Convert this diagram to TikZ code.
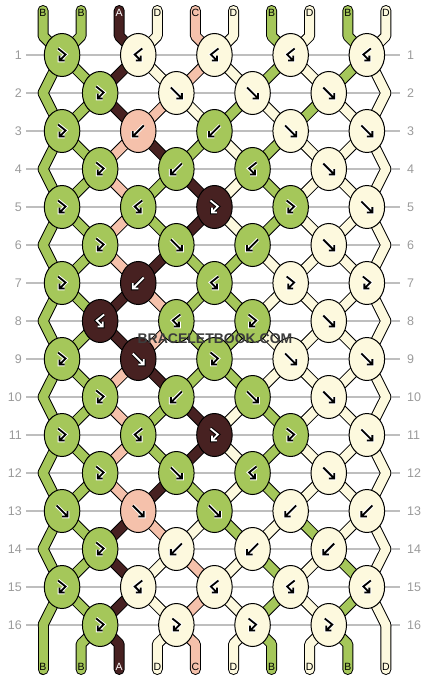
\documentclass[tikz,border=0pt]{standalone}
\usepackage{fontspec}
\newfontfamily\lsans{Liberation Sans}
\usetikzlibrary{shapes.geometric}
\definecolor{sB}{HTML}{A5C75A}
\definecolor{sA}{HTML}{472121}
\definecolor{sC}{HTML}{F5C1AB}
\definecolor{sD}{HTML}{FDF9DE}
\definecolor{gridc}{HTML}{BEBEBE}
\definecolor{numc}{HTML}{9A9A9A}
\definecolor{wmc}{HTML}{3C3C3C}
\pgfdeclarelayer{gridlayer}
\pgfdeclarelayer{strlayer}
\pgfsetlayers{gridlayer,strlayer,main}
\def\letterA{A}
\newcommand\kfF{%
  \draw[symhalo,line width=3.8,line join=miter] (-5.5,-5.5)--(5.5,5.5) (5.5,0)--(5.5,5.5)--(0,5.5);
  \draw[symfg,line width=1.8,line join=miter] (-5.5,-5.5)--(5.5,5.5) (5.5,0)--(5.5,5.5)--(0,5.5);}
\newcommand\kfB{%
  \draw[symhalo,line width=3.8,line join=miter] (5.5,-5.5)--(-5.5,5.5) (-5.5,0)--(-5.5,5.5)--(0,5.5);
  \draw[symfg,line width=1.8,line join=miter] (5.5,-5.5)--(-5.5,5.5) (-5.5,0)--(-5.5,5.5)--(0,5.5);}
\newcommand\kfFB{%
  \draw[symhalo,line width=3.8,line join=miter] (-4,-6.5)--(3.5,-0.5)--(-2.5,5.5) (-2.5,0.5)--(-2.5,5.5)--(2.5,5.5);
  \draw[symfg,line width=1.8,line join=miter] (-4,-6.5)--(3.5,-0.5)--(-2.5,5.5) (-2.5,0.5)--(-2.5,5.5)--(2.5,5.5);}
\newcommand\kfBF{%
  \draw[symhalo,line width=3.8,line join=miter] (4,-6.5)--(-3.5,-0.5)--(2.5,5.5) (2.5,0.5)--(2.5,5.5)--(-2.5,5.5);
  \draw[symfg,line width=1.8,line join=miter] (4,-6.5)--(-3.5,-0.5)--(2.5,5.5) (2.5,0.5)--(2.5,5.5)--(-2.5,5.5);}
\newcommand\stringpass[2]{%
  \foreach \kc [count=\ii from 0] in {B,B,A,D,C,D,B,D,B,D} {
    \pgfmathtruncatemacro\so{\ii/2}
    \ifnum\ii=0 \def\se{L}\else\ifnum\ii=9 \def\se{R}\else\pgfmathtruncatemacro\se{(\ii-1)/2}\fi\fi
    \draw[color=#1,line width=#2,line cap=round,line join=round] (t-\ii) -- (tb-\ii) -- (k-1-\so.center);
    \draw[color=#1,line width=#2,line cap=round,line join=round] (k-16-\se.center) -- (bb-\ii) -- (b-\ii);
  }
  \foreach \rr/\st in {1/{B,B,A,D,C,D,B,D,B,D},2/{B,B,A,C,D,B,D,B,D,D},3/{B,B,C,A,B,D,B,D,D,D},
      4/{B,B,C,B,A,D,B,D,D,D},5/{B,B,C,B,A,D,B,D,D,D},6/{B,B,C,A,B,B,D,D,D,D},
      7/{B,B,A,C,B,B,D,D,D,D},8/{B,B,A,C,B,B,D,D,D,D},9/{B,B,C,A,B,B,D,D,D,D},
      10/{B,B,C,B,A,D,B,D,D,D},11/{B,B,C,B,A,D,B,D,D,D},12/{B,B,C,A,B,D,B,D,D,D},
      13/{B,B,A,C,D,B,D,B,D,D},14/{B,B,A,D,C,D,B,D,B,D},15/{B,B,A,D,C,D,B,D,B,D}} {
    \pgfmathtruncatemacro\rn{\rr+1}
    \foreach \kc [count=\ii from 0] in \st {
      \pgfmathtruncatemacro\so{\ii/2}
      \ifnum\ii=0 \def\se{L}\else\ifnum\ii=9 \def\se{R}\else\pgfmathtruncatemacro\se{(\ii-1)/2}\fi\fi
      \ifodd\rr\relax
        \draw[color=#1,line width=#2,line cap=round] (k-\rr-\so.center) -- (k-\rn-\se.center);
      \else
        \draw[color=#1,line width=#2,line cap=round] (k-\rr-\se.center) -- (k-\rn-\so.center);
      \fi
    }
  }
}
\begin{document}
\begin{tikzpicture}[x=1pt,y=-1pt,
  knot/.style={ellipse,draw=black,line width=1,minimum width=35.5pt,minimum height=43pt,inner sep=0pt},
  numlab/.style={font=\lsans\fontsize{12.5}{12.5}\selectfont,text=numc,inner sep=0pt},
  strlab/.style={font=\lsans\fontsize{10.5}{10.5}\selectfont,inner sep=0pt},
  wm/.style={font=\lsans\bfseries\fontsize{14}{14}\selectfont,inner sep=0pt}]
\useasboundingbox (0,0) rectangle (430,680);
\begin{pgfonlayer}{gridlayer}
\foreach \rr in {1,...,16} {
  \pgfmathsetmacro\yy{55+38*(\rr-1)}
  \draw[gridc,line width=1.5] (26,\yy) -- (400,\yy);
  \node[numlab,anchor=east] (nl-\rr) at (22,\yy) {\rr};
  \node[numlab,anchor=west] (nr-\rr) at (407,\yy) {\rr};
}
\end{pgfonlayer}
% knots
\foreach \rr/\ks in {1/{FB/B,BF/D,BF/D,BF/D,BF/D},2/{FB/B,F/D,F/D,F/D},3/{FB/B,B/C,B/B,F/D,F/D},
    4/{FB/B,B/B,BF/B,F/D},5/{FB/B,BF/B,FB/A,FB/B,F/D},6/{FB/B,F/B,B/B,F/D},
    7/{FB/B,B/A,BF/B,FB/D,FB/D},8/{BF/A,BF/B,FB/B,F/D},9/{FB/B,F/A,FB/B,F/D,F/D},
    10/{FB/B,B/B,F/B,F/D},11/{FB/B,BF/B,FB/A,FB/B,F/D},12/{FB/B,F/B,BF/B,F/D},
    13/{F/B,F/C,F/B,B/D,B/D},14/{FB/B,B/D,B/D,B/D},15/{FB/B,BF/D,BF/D,BF/D,BF/D},
    16/{FB/B,FB/D,FB/D,FB/D}} {
  \pgfmathsetmacro\yy{55+38*(\rr-1)}
  \foreach \kt/\kc [count=\jj from 0] in \ks {
    \ifodd\rr\relax \pgfmathsetmacro\xx{62.05+76.2*\jj}\else \pgfmathsetmacro\xx{100.15+76.2*\jj}\fi
    \node[knot,fill=s\kc] (k-\rr-\jj) at (\xx,\yy) {};
    \edef\cc{\kc}%
    \ifx\cc\letterA \tikzset{symhalo/.style={black},symfg/.style={white}}\else \tikzset{symhalo/.style={white},symfg/.style={black}}\fi
    \begin{scope}[shift={(\xx,\yy)}]
      \csname kf\kt\endcsname
    \end{scope}
  }
  \ifodd\rr\relax\else
    \coordinate (k-\rr-L) at (43,\yy);
    \coordinate (k-\rr-R) at (385.9,\yy);
  \fi
}
% string ends
\foreach \kc [count=\ii from 0] in {B,B,A,D,C,D,B,D,B,D} {
  \pgfmathsetmacro\xx{43+38.1*\ii}
  \coordinate (t-\ii) at (\xx,10.5);
  \coordinate (tb-\ii) at (\xx,36);
  \coordinate (bb-\ii) at (\xx,644);
  \coordinate (b-\ii) at (\xx,669.5);
}
\begin{pgfonlayer}{strlayer}
\stringpass{black}{11}
\stringpass{s\kc}{9}
\end{pgfonlayer}
\foreach \kc [count=\ii from 0] in {B,B,A,D,C,D,B,D,B,D} {
  \pgfmathsetmacro\xx{43+38.1*\ii}
  \edef\cc{\kc}%
  \ifx\cc\letterA \def\lc{white}\else \def\lc{black}\fi
  \node[strlab,text=\lc] (lt-\ii) at (\xx,12.5) {\kc};
  \node[strlab,text=\lc] (lb-\ii) at (\xx,667) {\kc};
}
% watermark
\node[wm,text=wmc] (wm) at (215,339) {BRACELETBOOK.COM};
\end{tikzpicture}
\end{document}
